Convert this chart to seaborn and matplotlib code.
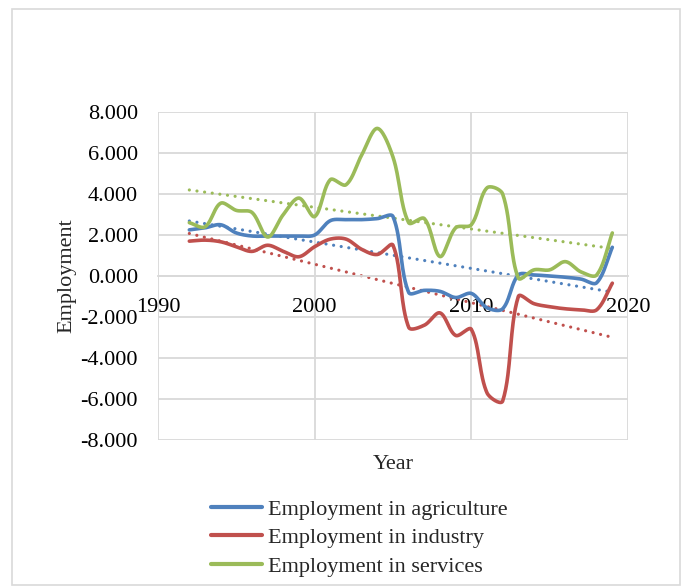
import numpy as np
import matplotlib
matplotlib.use("Agg")
import matplotlib.pyplot as plt
from matplotlib.lines import Line2D
from matplotlib.patches import Rectangle
from matplotlib.ticker import FuncFormatter, MultipleLocator
import seaborn as sns

years = list(range(1992, 2020))
agriculture = [2.25, 2.35, 2.5, 2.1, 1.95, 1.95, 1.95, 1.95, 2.0, 2.7,
               2.75, 2.75, 2.8, 2.9, -0.8, -0.7, -0.75, -1.05, -0.85, -1.55,
               -1.6, 0.05, 0.05, 0.0, -0.06, -0.15, -0.33, 1.4]
industry = [1.7, 1.75, 1.67, 1.43, 1.2, 1.5, 1.2, 0.94, 1.43, 1.8,
            1.8, 1.3, 1.05, 1.5, -2.5, -2.4, -1.8, -2.9, -2.6, -5.7,
            -6.1, -1.0, -1.35, -1.5, -1.6, -1.65, -1.65, -0.35]
services = [2.6, 2.4, 3.55, 3.2, 3.1, 1.9, 3.0, 3.8, 2.9, 4.7,
            4.45, 5.9, 7.2, 5.8, 2.6, 2.8, 0.95, 2.35, 2.5, 4.3,
            4.0, -0.1, 0.3, 0.3, 0.7, 0.2, 0.05, 2.1]

series_names = ["Employment in agriculture", "Employment in industry",
                "Employment in services"]
series_values = [agriculture, industry, services]
colors = ["#4F81BD", "#C0504D", "#9BBB59"]

# pixel size of one x unit and one y unit, used to weight the curve tangents
X_SCALE, Y_SCALE = 15.67, 20.5


def smooth_curve(x, y, n=30):
    """Bezier smoothing through every point, tangents weighted by segment length."""
    p = np.column_stack([x, y]).astype(float)
    s = np.array([X_SCALE, Y_SCALE])
    pts = []
    for i in range(len(p) - 1):
        p0 = p[i - 1] if i > 0 else p[i]
        p1, p2 = p[i], p[i + 1]
        p3 = p[i + 2] if i + 2 < len(p) else p[i + 1]
        d01 = np.linalg.norm((p1 - p0) * s)
        d12 = np.linalg.norm((p2 - p1) * s)
        d23 = np.linalg.norm((p3 - p2) * s)
        w1 = d12 / (d01 + d12) if d01 + d12 > 0 else 0.5
        w2 = d12 / (d12 + d23) if d12 + d23 > 0 else 0.5
        c1 = p1 + (p2 - p0) * w1 / 3.0
        c2 = p2 - (p3 - p1) * w2 / 3.0
        t = np.linspace(0, 1, n, endpoint=(i == len(p) - 2))[:, None]
        seg = ((1 - t) ** 3) * p1 + 3 * ((1 - t) ** 2) * t * c1 \
            + 3 * (1 - t) * t ** 2 * c2 + t ** 3 * p2
        pts.append(seg)
    pts = np.vstack(pts)
    return pts[:, 0], pts[:, 1]


sns.set_theme(style="white")
plt.rcParams["font.family"] = ["Liberation Serif", "DejaVu Serif"]

fig = plt.figure(figsize=(6.84, 5.88), dpi=100)
ax = fig.add_axes([158 / 684, 1 - 440 / 588, 470 / 684, 328 / 588])

# outer chart frame
fig.patches.append(Rectangle((12 / 684, 1 - 585 / 588), 668 / 684, 576 / 588,
                             transform=fig.transFigure, fill=False,
                             edgecolor="#d9d9d9", linewidth=1.2, zorder=0))

grid_color = "#d9d9d9"
ax.set_xlim(1990, 2020)
ax.set_ylim(-8, 8)
ax.xaxis.set_major_locator(MultipleLocator(10))
ax.yaxis.set_major_locator(MultipleLocator(2))
ax.grid(True, color=grid_color, linewidth=1.3)
ax.set_axisbelow(True)
for side in ["top", "right", "left"]:
    ax.spines[side].set_visible(False)
ax.spines["bottom"].set_position(("data", 0))
ax.spines["bottom"].set_color(grid_color)
ax.spines["bottom"].set_linewidth(1.3)

for vals, color in zip(series_values, colors):
    sx, sy = smooth_curve(years, vals)
    ax.plot(sx, sy, color=color, linewidth=2.6, solid_capstyle="round", zorder=3)
    sns.regplot(x=np.array(years, dtype=float), y=np.array(vals), ax=ax,
                scatter=False, ci=None, truncate=True,
                line_kws=dict(color=color, linewidth=2.3,
                              linestyle=(0, (0.01, 2.4)),
                              dash_capstyle="round", zorder=2))

ax.yaxis.set_major_formatter(FuncFormatter(lambda v, _: f"{v:.3f}"))
ax.tick_params(axis="both", length=0, labelsize=16, colors="black")
ax.tick_params(axis="y", pad=14.5)
ax.tick_params(axis="x", pad=16)
ax.set_xlabel("Year", fontsize=16)
ax.set_ylabel("Employment", fontsize=16, labelpad=3)
ax.xaxis.set_label_coords(0.5, -0.045)

handles = [Line2D([0], [0], color=c, linewidth=3) for c in colors]
fig.legend(handles, series_names, loc="upper left",
           bbox_to_anchor=(200 / 684, 1 - 488 / 588), frameon=False,
           fontsize=16, handlelength=2.3, handletextpad=0.25,
           labelspacing=0.36, borderpad=0)

fig.savefig("out.png", dpi=100)
